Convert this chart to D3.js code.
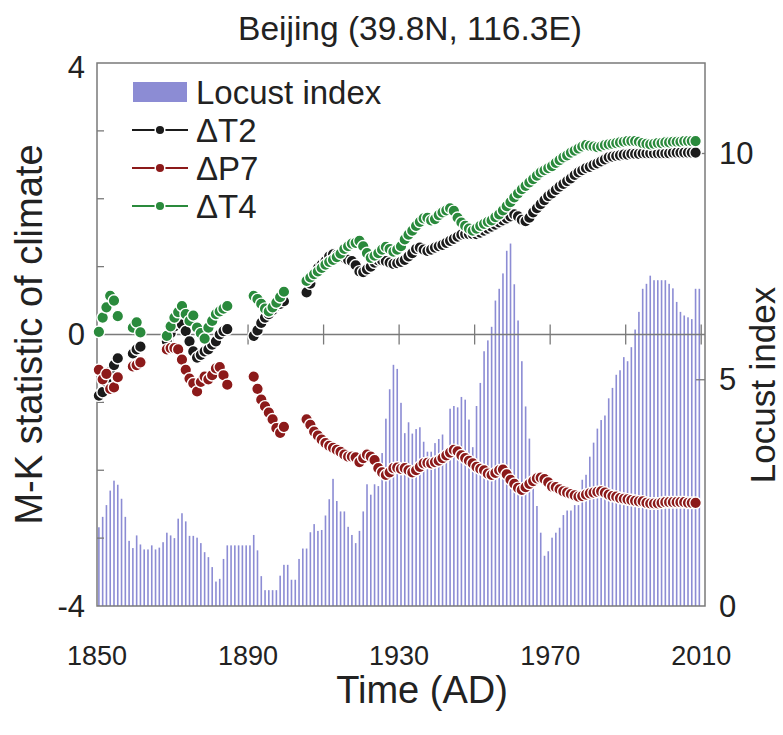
<!DOCTYPE html>
<html>
<head>
<meta charset="utf-8">
<script src="https://cdn.jsdelivr.net/npm/d3@7"></script>
<style>
  body { margin: 0; background: #fff; }
  svg { display: block; font-family: "Liberation Sans", Arial, sans-serif; }
</style>
</head>
<body>
<div id="chart"></div>
<script>
// Locust index, one bar per year 1850-2009
const locustYears = d3.range(1850, 2010);
const locustIndex = [
  1.74, 1.97, 2.23, 2.55, 2.77, 2.68, 2.37, 1.97, 1.44, 1.28,
  1.56, 1.36, 1.25, 1.25, 1.34, 1.25, 1.29, 1.41, 1.62, 1.56,
  1.50, 1.93, 2.05, 1.87, 1.55, 1.55, 1.51, 1.39, 1.19, 1.08,
  0.86, 0.54, 0.60, 1.04, 1.34, 1.34, 1.34, 1.34, 1.34, 1.34,
  1.34, 1.57, 1.23, 0.66, 0.35, 0.35, 0.35, 0.35, 0.67, 0.91,
  0.91, 0.58, 0.58, 1.04, 1.27, 1.27, 1.63, 1.81, 1.66, 1.68,
  2.00, 2.36, 2.81, 2.32, 2.09, 2.09, 1.75, 1.57, 1.39, 1.66,
  2.09, 2.69, 2.46, 2.69, 2.65, 3.38, 4.14, 4.79, 5.33, 5.24,
  4.49, 3.82, 4.06, 3.81, 3.91, 3.95, 3.63, 3.41, 3.41, 3.60,
  3.69, 3.79, 3.38, 4.36, 4.42, 4.39, 4.62, 4.56, 4.12, 3.51,
  4.42, 4.93, 5.63, 5.87, 6.17, 6.75, 7.01, 7.35, 7.85, 8.01,
  7.11, 6.31, 5.41, 4.41, 3.70, 2.61, 2.21, 1.62, 1.11, 1.21,
  1.51, 1.62, 1.73, 2.01, 2.11, 2.11, 2.23, 2.23, 2.79, 2.90,
  3.30, 3.61, 3.92, 4.11, 4.21, 4.59, 4.82, 5.11, 5.21, 5.50,
  5.41, 5.72, 6.11, 6.50, 7.01, 7.12, 7.30, 7.20, 7.20, 7.20,
  7.20, 7.12, 7.02, 6.72, 6.50, 6.42, 6.38, 6.34, 7.01, 7.01
];

// M-K statistics, one point per year 1850-2008 (null = no value)
const climateYears = d3.range(1850, 2009);
const dT2 = [
  -0.90, -0.85, -0.70, -0.55, -0.45, -0.35, null, null, null, -0.28,
  -0.22, -0.18, null, null, null, null, null, null, -0.10, 0.02,
  0.12, 0.18, 0.15, 0.05, -0.10, -0.25, -0.34, -0.30, -0.25, -0.22,
  -0.15, -0.10, 0.00, 0.05, 0.08, null, null, null, null, null,
  null, -0.02, 0.06, 0.17, 0.25, 0.30, 0.36, 0.42, 0.45, 0.49,
  null, null, null, null, null, 0.62, 0.75, 0.90, 0.98, 1.03,
  1.08, 1.15, 1.18, 1.17, 1.15, 1.13, 1.10, 1.08, 1.02, 0.93,
  0.92, 0.96, 1.00, 1.06, 1.09, 1.09, 1.08, 1.06, 1.04, 1.05,
  1.07, 1.10, 1.15, 1.20, 1.26, 1.28, 1.25, 1.23, 1.25, 1.28,
  1.30, 1.32, 1.35, 1.38, 1.41, 1.44, 1.47, 1.48, 1.48, 1.48,
  1.48, 1.50, 1.53, 1.56, 1.59, 1.62, 1.65, 1.68, 1.71, 1.74,
  1.77, 1.74, 1.69, 1.67, 1.72, 1.80, 1.86, 1.92, 1.98, 2.04,
  2.08, 2.13, 2.18, 2.22, 2.26, 2.30, 2.35, 2.39, 2.42, 2.45,
  2.47, 2.50, 2.52, 2.55, 2.58, 2.61, 2.62, 2.63, 2.64, 2.65,
  2.65, 2.66, 2.66, 2.66, 2.67, 2.67, 2.67, 2.67, 2.67, 2.67,
  2.67, 2.67, 2.68, 2.68, 2.68, 2.68, 2.68, 2.68, 2.68
];
const dP7 = [
  -0.52, -0.66, -0.58, -0.80, -0.78, -0.63, null, null, null, -0.47,
  -0.45, -0.41, null, null, null, null, null, null, -0.22, -0.20,
  -0.20, -0.22, -0.37, -0.52, -0.65, -0.72, -0.84, -0.70, -0.62, -0.66,
  -0.60, -0.50, -0.48, -0.60, -0.74, null, null, null, null, null,
  null, -0.62, -0.80, -0.96, -1.06, -1.15, -1.25, -1.38, -1.45, -1.36,
  null, null, null, null, null, -1.25, -1.33, -1.43, -1.49, -1.55,
  -1.60, -1.64, -1.67, -1.70, -1.73, -1.77, -1.80, -1.80, -1.81, -1.88,
  -1.82, -1.77, -1.80, -1.85, -1.97, -2.03, -2.07, -2.03, -1.97, -1.96,
  -1.98, -1.97, -2.00, -2.03, -2.00, -1.95, -1.90, -1.89, -1.90, -1.88,
  -1.86, -1.82, -1.78, -1.74, -1.70, -1.72, -1.78, -1.82, -1.86, -1.90,
  -1.95, -1.98, -2.00, -2.05, -2.07, -2.04, -2.00, -1.99, -2.06, -2.14,
  -2.20, -2.26, -2.29, -2.25, -2.20, -2.16, -2.12, -2.11, -2.13, -2.18,
  -2.24, -2.25, -2.28, -2.31, -2.33, -2.35, -2.37, -2.39, -2.38, -2.36,
  -2.34, -2.33, -2.32, -2.31, -2.33, -2.36, -2.38, -2.39, -2.41, -2.42,
  -2.43, -2.44, -2.45, -2.46, -2.46, -2.48, -2.49, -2.49, -2.49, -2.48,
  -2.47, -2.47, -2.47, -2.47, -2.47, -2.47, -2.48, -2.48, -2.48
];
const dT4 = [
  0.04, 0.25, 0.40, 0.57, 0.50, 0.27, null, null, null, 0.10,
  0.18, 0.03, null, null, null, null, null, null, -0.02, 0.12,
  0.25, 0.33, 0.42, 0.30, 0.20, 0.28, 0.10, 0.02, -0.06, 0.10,
  0.20, 0.30, 0.34, 0.38, 0.42, null, null, null, null, null,
  null, 0.57, 0.52, 0.45, 0.38, 0.34, 0.40, 0.47, 0.55, 0.63,
  null, null, null, null, null, 0.79, 0.84, 0.89, 0.93, 0.98,
  1.03, 1.07, 1.10, 1.14, 1.19, 1.26, 1.30, 1.34, 1.35, 1.38,
  1.30, 1.20, 1.13, 1.16, 1.20, 1.25, 1.29, 1.26, 1.22, 1.25,
  1.30, 1.40, 1.47, 1.53, 1.60, 1.66, 1.71, 1.72, 1.68, 1.70,
  1.76, 1.80, 1.83, 1.86, 1.82, 1.72, 1.65, 1.60, 1.56, 1.53,
  1.56, 1.60, 1.63, 1.66, 1.68, 1.73, 1.77, 1.83, 1.89, 1.95,
  2.02, 2.08, 2.14, 2.19, 2.24, 2.29, 2.34, 2.39, 2.42, 2.45,
  2.48, 2.53, 2.57, 2.61, 2.64, 2.68, 2.71, 2.74, 2.77, 2.79,
  2.78, 2.77, 2.76, 2.77, 2.79, 2.80, 2.81, 2.82, 2.83, 2.84,
  2.85, 2.85, 2.85, 2.84, 2.82, 2.81, 2.80, 2.81, 2.82, 2.82,
  2.83, 2.83, 2.84, 2.84, 2.84, 2.85, 2.85, 2.85, 2.85
];

const xLabelTicks = [1850, 1890, 1930, 1970, 2010];
const xZeroTicks = [1870, 1890, 1910, 1930, 1950, 1970, 1990, 2010];
const leftTicks = [-3, -2, -1, 1, 2, 3];
const leftLabels = [-4, 0, 4];
const rightTicks = [5, 10];
const rightLabels = [0, 5, 10];

const series = [
  {name: "\u0394T2", values: dT2, color: "#1b1b1b"},
  {name: "\u0394P7", values: dP7, color: "#8c1a1a"},
  {name: "\u0394T4", values: dT4, color: "#2a8a3c"}
];
const barColor = "#8c8cd4";
const axisColor = "#7a7a7a";

const W = 783, H = 735;
const L = 97, R = 705, T = 63, B = 606;

const svg = d3.select("#chart").append("svg")
    .attr("width", W).attr("height", H);

const x = d3.scaleLinear().domain([1850, 2011]).range([L, R]);
const yL = d3.scaleLinear().domain([-4, 4]).range([B, T]);
const yR = d3.scaleLinear().domain([0, 12]).range([B, T]);

// bars
svg.append("g").selectAll("rect")
    .data(locustYears.map((yr, i) => ({yr, v: locustIndex[i]})))
    .join("rect")
    .attr("x", d => x(d.yr + 0.5) - 0.8)
    .attr("width", 1.6)
    .attr("y", d => yR(d.v))
    .attr("height", d => B - yR(d.v))
    .attr("fill", barColor);

// frame
svg.append("rect").attr("x", L).attr("y", T).attr("width", R - L).attr("height", B - T)
    .attr("fill", "none").attr("stroke", axisColor).attr("stroke-width", 1.5);

// zero line with ticks
svg.append("line").attr("x1", L).attr("x2", R).attr("y1", yL(0)).attr("y2", yL(0))
    .attr("stroke", axisColor).attr("stroke-width", 1.3);
svg.append("g").selectAll("line").data(xZeroTicks).join("line")
    .attr("x1", d => x(d)).attr("x2", d => x(d))
    .attr("y1", yL(0) - 10).attr("y2", yL(0) + 10)
    .attr("stroke", axisColor).attr("stroke-width", 1.3);

// left ticks (inward)
svg.append("g").selectAll("line").data(leftTicks).join("line")
    .attr("x1", L).attr("x2", L + 7)
    .attr("y1", d => yL(d)).attr("y2", d => yL(d))
    .attr("stroke", axisColor).attr("stroke-width", 1.3);
// right ticks (inward)
svg.append("g").selectAll("line").data(rightTicks).join("line")
    .attr("x1", R - 9).attr("x2", R)
    .attr("y1", d => yR(d)).attr("y2", d => yR(d))
    .attr("stroke", axisColor).attr("stroke-width", 1.3);

// tick labels
svg.append("g").selectAll("text").data(leftLabels).join("text")
    .attr("x", 85).attr("y", d => d === 4 ? yL(d) + 4 : yL(d))
    .attr("text-anchor", "end").attr("dominant-baseline", "central")
    .attr("font-size", 31).attr("fill", "#222")
    .text(d => d);
svg.append("g").selectAll("text").data(rightLabels).join("text")
    .attr("x", 719).attr("y", d => yR(d))
    .attr("text-anchor", "start").attr("dominant-baseline", "central")
    .attr("font-size", 31).attr("fill", "#222")
    .text(d => d);
svg.append("g").selectAll("text").data(xLabelTicks).join("text")
    .attr("x", d => x(d)).attr("y", 656)
    .attr("text-anchor", "middle").attr("dominant-baseline", "central")
    .attr("font-size", 27).attr("fill", "#222")
    .text(d => d);

// titles
svg.append("text").attr("x", 410).attr("y", 28)
    .attr("text-anchor", "middle").attr("dominant-baseline", "central")
    .attr("font-size", 33.5).attr("fill", "#222")
    .text("Beijing (39.8N, 116.3E)");
svg.append("text").attr("x", 422).attr("y", 690)
    .attr("text-anchor", "middle").attr("dominant-baseline", "central")
    .attr("font-size", 38).attr("fill", "#222")
    .text("Time (AD)");
svg.append("text")
    .attr("transform", `translate(29,${yL(0)}) rotate(-90)`)
    .attr("text-anchor", "middle").attr("dominant-baseline", "central")
    .attr("font-size", 38).attr("fill", "#222")
    .text("M-K statistic of climate");
svg.append("text")
    .attr("transform", `translate(762,385) rotate(-90)`)
    .attr("text-anchor", "middle").attr("dominant-baseline", "central")
    .attr("font-size", 35).attr("fill", "#222")
    .text("Locust index");

// climate points
series.forEach(s => {
  const pts = climateYears.map((yr, i) => ({yr, v: s.values[i]})).filter(d => d.v !== null);
  svg.append("g").selectAll("circle").data(pts).join("circle")
      .attr("cx", d => x(d.yr + 0.5))
      .attr("cy", d => yL(d.v))
      .attr("r", 5.8)
      .attr("fill", s.color)
      .attr("stroke", "#fff").attr("stroke-width", 1.4);
});

// legend
const lg = svg.append("g");
lg.append("rect").attr("x", 133).attr("y", 82).attr("width", 54).attr("height", 20)
    .attr("fill", barColor);
lg.append("text").attr("x", 196).attr("y", 92)
    .attr("dominant-baseline", "central").attr("font-size", 33).attr("fill", "#222")
    .text("Locust index");
series.forEach((s, i) => {
  const yy = 130 + i * 38;
  lg.append("line").attr("x1", 132).attr("x2", 188).attr("y1", yy).attr("y2", yy)
      .attr("stroke", s.color).attr("stroke-width", 2);
  lg.append("circle").attr("cx", 160).attr("cy", yy).attr("r", 4.8)
      .attr("fill", s.color).attr("stroke", "#fff").attr("stroke-width", 1.5);
  lg.append("text").attr("x", 196).attr("y", yy)
      .attr("dominant-baseline", "central").attr("font-size", 33).attr("fill", "#222")
      .text(s.name);
});
</script>
</body>
</html>
